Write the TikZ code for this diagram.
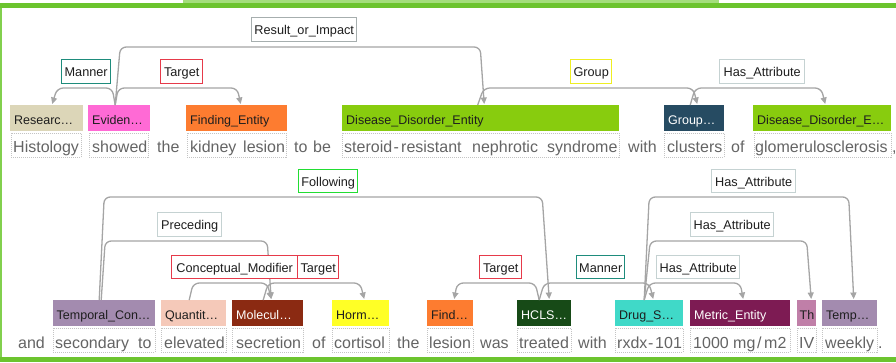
\documentclass[tikz,border=0pt]{standalone}
\usepackage{fontspec}
\setmainfont{Liberation Sans}
\usetikzlibrary{arrows.meta}

\definecolor{frameg}{HTML}{6CC42E}
\definecolor{frameglight}{HTML}{A4DE7C}
\definecolor{frameleft}{HTML}{82D04E}
\definecolor{arcgray}{HTML}{A5A5A5}
\definecolor{wordgray}{HTML}{646464}
\definecolor{dotgray}{HTML}{C4C4C4}
\definecolor{labtext}{HTML}{1E1E1E}
\definecolor{cResearch}{HTML}{DCD6B8}
\definecolor{cEvidence}{HTML}{FF6AD5}
\definecolor{cFinding}{HTML}{FD7C30}
\definecolor{cDisease}{HTML}{88CC0E}
\definecolor{cGroup}{HTML}{264B62}
\definecolor{cTemporal}{HTML}{A38BAF}
\definecolor{cQuant}{HTML}{F5C9B9}
\definecolor{cMolecule}{HTML}{8B2A12}
\definecolor{cHormone}{HTML}{FFFF26}
\definecolor{cHCLS}{HTML}{174A17}
\definecolor{cDrug}{HTML}{40D9C8}
\definecolor{cMetric}{HTML}{7D1B53}
\definecolor{cTh}{HTML}{C07FA8}
\definecolor{bManner}{HTML}{1E8C7C}
\definecolor{bTarget}{HTML}{E63A4A}
\definecolor{bNeutral}{HTML}{C5D2D2}
\definecolor{bResult}{HTML}{A6AEAE}
\definecolor{bGroup}{HTML}{EEEE22}
\definecolor{bFollow}{HTML}{22DD33}

% relation arc: origin node, origin shift, target node, target shift,
% target bend shift, rise above the box tops, slant of the origin leg
\newcommand\relarc[7]{%
  \draw[relline] ([xshift=#2pt]#1.north) -- ++(#7,-#6) coordinate (bend)
    -- ([xshift=#5pt]#3.north |- bend) -- ([xshift=#4pt,yshift=1pt]#3.north);}

\begin{document}
\begin{tikzpicture}[x=1pt,y=-1pt,
  ent/.style={anchor=north west, minimum height=26pt, inner xsep=4pt, inner ysep=0pt,
    text height=12pt, text depth=0pt, align=left,
    font=\fontsize{12.5}{14}\selectfont, text=labtext},
  rel/.style={draw, fill=white, anchor=north west, line width=1.4pt, minimum height=24pt,
    inner sep=0pt, text height=10pt, text depth=0pt,
    font=\fontsize{12.7}{14}\selectfont, text=labtext},
  wbox/.style={draw=dotgray, dash pattern=on 1pt off 1pt, line width=0.8pt,
    anchor=north west, minimum height=24pt, inner sep=0pt},
  word/.style={anchor=base west, inner sep=0pt, font=\fontsize{16}{18}\selectfont, text=wordgray},
  relline/.style={draw=arcgray, line width=1.3pt, rounded corners=6pt,
    -{Triangle[length=6.5pt,width=6pt]}}]
\useasboundingbox (0,0) rectangle (896,362);

% frame
\fill[frameglight] (183,0) rectangle (719,3);
\fill[frameg] (0,3) rectangle (896,8);
\fill[frameleft] (0,8) rectangle (1.6,357);
\fill[frameg] (0,357) rectangle (896,362);

% ---------- first sentence ----------
% token boxes
\node[wbox, minimum width=70pt]  (wb1) at (11,133) {};
\node[wbox, minimum width=59pt]  (wb2) at (89,133) {};
\node[wbox, minimum width=99pt]  (wb3) at (187,133) {};
\node[wbox, minimum width=277pt] (wb4) at (342,133) {};
\node[wbox, minimum width=60pt]  (wb5) at (664,133) {};
\node[wbox, minimum width=137pt] (wb6) at (754,133) {};

% tokens
\node[word] (a1)  at (13,152.5)  {Histology};
\node[word] (a2)  at (92,152.5)  {showed};
\node[word] (a3)  at (157,152.5) {the};
\node[word] (a4)  at (190,152.5) {kidney};
\node[word] (a5)  at (243,152.5) {lesion};
\node[word] (a6)  at (294,152.5) {to};
\node[word] (a7)  at (313,152.5) {be};
\node[word] (a8)  at (344,152.5) {steroid};
\node[word] (a9)  at (393.5,152.5) {-};
\node[word] (a10) at (401,152.5) {resistant};
\node[word] (a11) at (472,152.5) {nephrotic};
\node[word] (a12) at (547,152.5) {syndrome};
\node[word] (a13) at (628,152.5) {with};
\node[word] (a14) at (667,152.5) {clusters};
\node[word] (a15) at (731,152.5) {of};
\node[word] (a16) at (755,152.5) {glomerulosclerosis};
\node[word] (a17) at (892,152.5) {,};

% entity boxes
\node[ent, fill=cResearch, text width=65pt]  (researc)  at (10,105)  {Researc…};
\node[ent, fill=cEvidence, text width=54pt]  (eviden)   at (88,105)  {Eviden…};
\node[ent, fill=cFinding,  text width=93pt]  (finding1) at (186,105) {Finding\_Entity};
\node[ent, fill=cDisease,  text width=269pt] (disease1) at (342,105) {Disease\_Disorder\_Entity};
\node[ent, fill=cGroup,    text width=52pt, text=white] (group) at (664,105) {Group…};
\node[ent, fill=cDisease,  text width=130pt] (disease2) at (753,105) {Disease\_Disorder\_E…};

% relations
\relarc{eviden}{-4}{researc}{5.5}{10.5}{17}{-3}
\relarc{eviden}{-4}{finding1}{4}{0.5}{17}{3}
\relarc{eviden}{-4}{disease1}{3.5}{-0.5}{58}{5}
\relarc{disease1}{-3}{group}{3}{-1}{17}{6}
\relarc{group}{-4}{disease2}{3}{-1}{17}{5}

\node[rel, draw=bManner, minimum width=49pt]  (lManA)   at (61,59)    {Manner};
\node[rel, draw=bTarget, minimum width=42pt]  (lTarA)   at (160,59)   {Target};
\node[rel, draw=bResult, minimum width=105pt] (lResult) at (251,16.5) {Result\_or\_Impact};
\node[rel, draw=bGroup,  minimum width=41pt]  (lGroup)  at (570,59)   {Group};
\node[rel, draw=bNeutral, minimum width=85pt] (lHasA)   at (719,59)   {Has\_Attribute};

% ---------- second sentence ----------
\node[wbox, minimum width=102pt] (wc1)  at (53,328)  {};
\node[wbox, minimum width=65pt]  (wc2)  at (161,328) {};
\node[wbox, minimum width=71pt]  (wc3)  at (232,328) {};
\node[wbox, minimum width=57pt]  (wc4)  at (332,328) {};
\node[wbox, minimum width=46pt]  (wc5)  at (427,328) {};
\node[wbox, minimum width=54pt]  (wc6)  at (517,328) {};
\node[wbox, minimum width=68pt]  (wc7)  at (615,328) {};
\node[wbox, minimum width=100pt] (wc8)  at (690,328) {};
\node[wbox, minimum width=19pt]  (wc9)  at (797,328) {};
\node[wbox, minimum width=55pt]  (wc10) at (822,328) {};

\node[word] (b1)  at (18,348)  {and};
\node[word] (b2)  at (55,348)  {secondary};
\node[word] (b3)  at (138,348) {to};
\node[word] (b4)  at (164,348) {elevated};
\node[word] (b5)  at (236,348) {secretion};
\node[word] (b6)  at (312,348) {of};
\node[word] (b7)  at (334,348) {cortisol};
\node[word] (b8)  at (397,348) {the};
\node[word] (b9)  at (429,348) {lesion};
\node[word] (b10) at (480,348) {was};
\node[word] (b11) at (519,348) {treated};
\node[word] (b12) at (578,348) {with};
\node[word] (b13) at (617,348) {rxdx};
\node[word] (b14) at (648,348) {-};
\node[word] (b15) at (655,348) {101};
\node[word] (b16) at (693,348) {1000};
\node[word] (b17) at (733,348) {mg};
\node[word] (b18) at (757,348) {/};
\node[word] (b19) at (764,348) {m2};
\node[word] (b20) at (799,348) {IV};
\node[word] (b21) at (825,348) {weekly};
\node[word] (b22) at (878,348) {.};

\node[ent, fill=cTemporal, text width=95pt, inner xsep=3.5pt] (temporal) at (53,300) {Temporal\_Con…};
\node[ent, fill=cQuant,    text width=57pt] (quantit) at (161,300) {Quantit…};
\node[ent, fill=cMolecule, text width=63pt, text=white] (molecul) at (232,300) {Molecul…};
\node[ent, fill=cHormone,  text width=49pt] (horm)    at (332,300) {Horm…};
\node[ent, fill=cFinding,  text width=38pt] (find2)   at (427,300) {Find…};
\node[ent, fill=cHCLS,     text width=46pt, text=white] (hcls) at (517,300) {HCLS…};
\node[ent, fill=cDrug,     text width=60pt] (drug)    at (615,300) {Drug\_S…};
\node[ent, fill=cMetric,   text width=92pt, text=white] (metric) at (690,300) {Metric\_Entity};
\node[ent, fill=cTh,       text width=14pt, inner xsep=2.5pt] (th) at (797,300) {Th};
\node[ent, fill=cTemporal, text width=47pt] (temp)    at (822,300) {Temp…};

\relarc{temporal}{-5}{hcls}{5}{-2}{103}{5}
\relarc{temporal}{-3}{molecul}{3.5}{-0.5}{59}{4}
\relarc{quantit}{-4.5}{molecul}{3.5}{-0.5}{17}{4}
\relarc{molecul}{-4.5}{horm}{3.5}{-0.5}{17}{5}
\relarc{hcls}{-5}{find2}{4}{7}{17}{-4}
\relarc{hcls}{-5}{drug}{4}{0}{17}{5}
\relarc{drug}{-5}{metric}{3}{0}{17}{5}
\relarc{drug}{-5}{th}{4.5}{0}{59}{6}
\relarc{drug}{-5}{temp}{4}{-1}{103}{5}

\node[rel, draw=bFollow,  minimum width=59pt, minimum height=23pt] (lFollow) at (298,169) {Following};
\node[rel, draw=bNeutral, minimum width=64pt]  (lPrec)  at (157,212) {Preceding};
\node[rel, draw=bTarget,  minimum width=126pt, minimum height=23pt] (lConc) at (171,255) {Conceptual\_Modifier};
\node[rel, draw=bTarget,  minimum width=41pt, minimum height=23pt]  (lTarB) at (297,255) {Target};
\node[rel, draw=bTarget,  minimum width=42pt, minimum height=23pt]  (lTarC) at (479,255) {Target};
\node[rel, draw=bManner,  minimum width=48pt, minimum height=23pt]  (lManB) at (576,255) {Manner};
\node[rel, draw=bNeutral, minimum width=84pt, minimum height=23pt]  (lHasB) at (711,169) {Has\_Attribute};
\node[rel, draw=bNeutral, minimum width=83pt]  (lHasC) at (690,212) {Has\_Attribute};
\node[rel, draw=bNeutral, minimum width=83pt, minimum height=23pt]  (lHasD) at (656,255) {Has\_Attribute};
\end{tikzpicture}
\end{document}
